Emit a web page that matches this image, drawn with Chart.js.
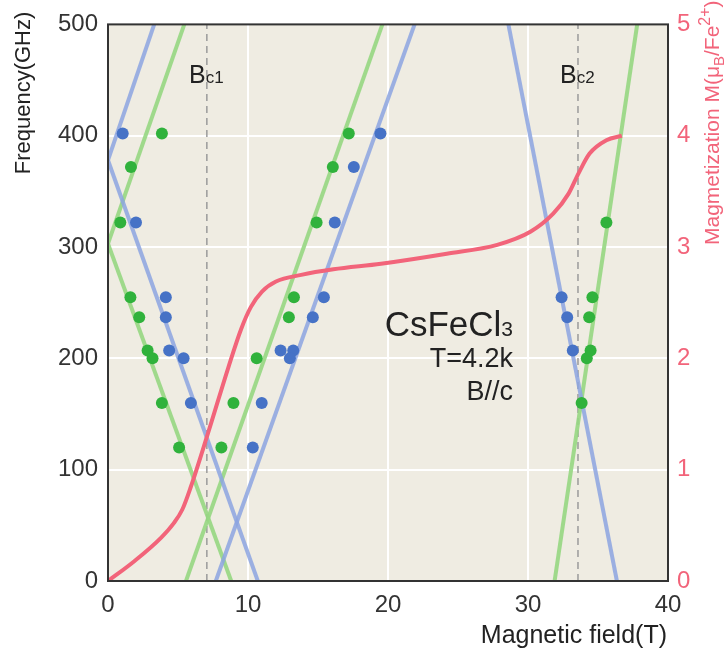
<!DOCTYPE html>
<html>
<head>
<meta charset="utf-8">
<script src="https://cdn.jsdelivr.net/npm/chart.js@4.4.1/dist/chart.umd.min.js"></script>
<style>
  html, body { margin: 0; padding: 0; background: #fff; }
  #wrap { width: 727px; height: 652px; position: relative; }
</style>
</head>
<body>
<div id="wrap"><canvas id="esr"></canvas></div>
<script>
// Axis ranges / ticks
const fieldRange = [0, 40];
const freqRange = [0, 500];
const magRange = [0, 5];

// critical fields (T)
const bc1 = 7.06;
const bc2 = 33.57;

// ESR branches: [field, freq] end points
const blueBranches = [
  [[0, 378], [3.3, 500]],
  [[0, 378], [10.7, 0]],
  [[7.7, 0], [21.9, 500]],
  [[28.6, 500], [36.35, 0]]
];
const greenBranches = [
  [[0, 303], [5.45, 500]],
  [[0, 303], [8.8, 0]],
  [[5.57, 0], [19.6, 500]],
  [[31.9, 0], [37.8, 500]]
];

// measured resonance points
const blueField = [1.05, 2.0, 4.13, 4.13, 4.37, 5.4, 5.92, 10.98, 10.34, 12.33, 13.23, 12.99, 14.63, 15.42, 16.2, 17.56, 19.46, 32.4, 32.8, 33.2];
const blueFreq  = [402, 322, 255, 237, 207, 200, 160, 160, 120, 207, 207, 200, 237, 255, 322, 372, 402, 255, 237, 207];
const greenField = [3.85, 1.64, 0.88, 1.6, 2.23, 2.83, 3.18, 3.85, 5.08, 8.1, 8.96, 10.62, 12.92, 13.28, 14.9, 16.06, 17.2, 33.83, 34.2, 34.47, 34.37, 34.6, 35.6];
const greenFreq  = [402, 372, 322, 255, 237, 207, 200, 160, 120, 120, 160, 200, 237, 255, 322, 372, 402, 160, 200, 207, 237, 255, 322];

// magnetization curve
const magField = [0, 1.9, 3.8, 4.7, 5.3, 5.9, 7.1, 8.6, 9.5, 10.2, 11.0, 12.0, 13.8, 16.1, 19.5, 24.2, 27.8, 30.2, 31.8, 32.9, 33.6, 34.4, 35.6, 36.7];
const magValue = [0, 0.18, 0.39, 0.52, 0.64, 0.84, 1.31, 1.92, 2.26, 2.46, 2.6, 2.69, 2.75, 2.80, 2.85, 2.94, 3.02, 3.14, 3.30, 3.48, 3.66, 3.84, 3.96, 4.0];

const BLUE_LINE = 'rgba(140,165,225,0.85)';
const GREEN_LINE = 'rgba(150,215,130,0.9)';
const BLUE_DOT = '#4672c6';
const GREEN_DOT = '#30b23c';
const RED = '#f2647a';
const FONT = '"Liberation Sans", Arial, Helvetica, sans-serif';

function toPts(xs, ys) { return xs.map((x, i) => ({ x, y: ys[i] })); }

function branchSet(seg, color) {
  return {
    data: seg.map(p => ({ x: p[0], y: p[1] })),
    showLine: true, borderColor: color, borderWidth: 4, pointRadius: 0,
    yAxisID: 'y', clip: 0, order: 3
  };
}
function dashSet(x) {
  return {
    data: [{ x, y: freqRange[0] }, { x, y: freqRange[1] }],
    showLine: true, borderColor: '#9a9a9a', borderWidth: 1.5, borderDash: [7, 5],
    pointRadius: 0, yAxisID: 'y', clip: 0, order: 4
  };
}

const datasets = [
  dashSet(bc1), dashSet(bc2),
  ...blueBranches.map(s => branchSet(s, BLUE_LINE)),
  ...greenBranches.map(s => branchSet(s, GREEN_LINE)),
  {
    data: toPts(magField, magValue), showLine: true, borderColor: RED, borderWidth: 4,
    pointRadius: 0, cubicInterpolationMode: 'monotone', yAxisID: 'y2', clip: 0, order: 2
  },
  {
    data: toPts(blueField, blueFreq), pointRadius: 6, pointBackgroundColor: BLUE_DOT,
    pointBorderWidth: 0, showLine: false, yAxisID: 'y', order: 1
  },
  {
    data: toPts(greenField, greenFreq), pointRadius: 6, pointBackgroundColor: GREEN_DOT,
    pointBorderWidth: 0, showLine: false, yAxisID: 'y', order: 1
  }
];

// draw text made of runs with different size / offset
function richText(ctx, parts, x, y, align) {
  let w = 0;
  parts.forEach(p => { ctx.font = p.size + 'px ' + FONT; w += ctx.measureText(p.t).width; });
  let cx = align === 'right' ? x - w : (align === 'center' ? x - w / 2 : x);
  parts.forEach(p => {
    ctx.font = p.size + 'px ' + FONT;
    ctx.fillText(p.t, cx, y + (p.dy || 0));
    cx += ctx.measureText(p.t).width;
  });
}

const decor = {
  id: 'decor',
  beforeDraw(chart) {
    const { ctx, chartArea: a } = chart;
    ctx.save();
    ctx.fillStyle = '#efece2';
    ctx.fillRect(a.left, a.top, a.right - a.left, a.bottom - a.top);
    ctx.restore();
  },
  afterDraw(chart) {
    const { ctx, chartArea: a } = chart;
    ctx.save();
    ctx.strokeStyle = '#333';
    ctx.lineWidth = 2;
    ctx.strokeRect(a.left, a.top, a.right - a.left, a.bottom - a.top);

    ctx.textBaseline = 'alphabetic';
    ctx.fillStyle = '#222';
    richText(ctx, [{ t: 'B', size: 25 }, { t: 'c1', size: 17 }], 189, 83, 'left');
    richText(ctx, [{ t: 'B', size: 25 }, { t: 'c2', size: 17 }], 560, 83, 'left');
    richText(ctx, [{ t: 'CsFeCl', size: 35 }, { t: '3', size: 21 }], 513, 336, 'right');
    richText(ctx, [{ t: 'T=4.2k', size: 27 }], 513, 367, 'right');
    richText(ctx, [{ t: 'B//c', size: 27 }], 513, 400, 'right');

    // x title
    richText(ctx, [{ t: 'Magnetic field(T)', size: 25 }], 667, 643, 'right');

    // left title
    ctx.save();
    ctx.translate(30, 93);
    ctx.rotate(-Math.PI / 2);
    richText(ctx, [{ t: 'Frequency(GHz)', size: 22 }], 0, 0, 'center');
    ctx.restore();

    // right title
    ctx.save();
    ctx.fillStyle = RED;
    ctx.translate(719, 245);
    ctx.rotate(-Math.PI / 2);
    richText(ctx, [
      { t: 'Magmetization M(\u03bc', size: 21 },
      { t: 'B', size: 15, dy: 5 },
      { t: '/Fe', size: 21 },
      { t: '2+', size: 16, dy: -9 },
      { t: ')', size: 21 }
    ], 0, 0, 'left');
    ctx.restore();
    ctx.restore();
  }
};

new Chart(document.getElementById('esr'), {
  type: 'scatter',
  data: { datasets },
  plugins: [decor],
  options: {
    responsive: true,
    maintainAspectRatio: false,
    animation: false,
    layout: { padding: { top: 23, left: 0, right: 0, bottom: 0 } },
    plugins: { legend: { display: false }, tooltip: { enabled: false } },
    scales: {
      x: {
        type: 'linear', min: fieldRange[0], max: fieldRange[1],
        afterFit: s => { s.height = 71; },
        ticks: { stepSize: 10, color: '#333', padding: 10, font: { size: 24, family: FONT } },
        grid: { color: '#fff', lineWidth: 2, drawTicks: false },
        border: { display: false }
      },
      y: {
        type: 'linear', position: 'left', min: freqRange[0], max: freqRange[1],
        afterFit: s => { s.width = 108; },
        ticks: { stepSize: 100, color: '#333', padding: 10, font: { size: 24, family: FONT } },
        grid: { color: '#fff', lineWidth: 2, drawTicks: false },
        border: { display: false }
      },
      y2: {
        type: 'linear', position: 'right', min: magRange[0], max: magRange[1],
        afterFit: s => { s.width = 59; },
        ticks: { stepSize: 1, color: RED, padding: 9, font: { size: 24, family: FONT } },
        grid: { display: false, drawTicks: false },
        border: { display: false }
      }
    }
  }
});
</script>
</body>
</html>
